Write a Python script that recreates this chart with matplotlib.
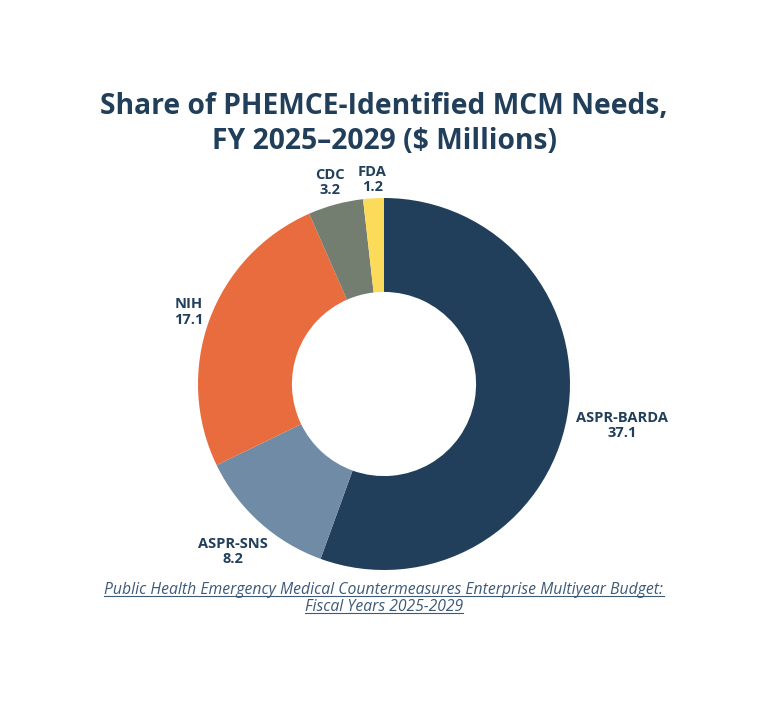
import matplotlib
matplotlib.use("Agg")
import matplotlib.pyplot as plt
import numpy as np
from matplotlib.lines import Line2D

plt.rcParams['font.family'] = ['Open Sans', 'DejaVu Sans']

agencies = ["ASPR-BARDA", "ASPR-SNS", "NIH", "CDC", "FDA"]
values = [37.1, 8.2, 17.1, 3.2, 1.2]
colors = ["#213f5a", "#6f8ba5", "#e86c3d", "#737d70", "#fddb5a"]
label_dist = [1.30, 1.21, 1.12, 1.12, 1.10]

navy = "#213f5a"

fig = plt.figure(figsize=(7.68, 7.07), dpi=100)
fig.patch.set_facecolor("white")

# donut axes, centre at (384, 384) px, radius 186 px
r_px = 186
cx, cy = 384 / 768, 1 - 384 / 707
ax = fig.add_axes([cx - r_px / 768, cy - r_px / 707, 2 * r_px / 768, 2 * r_px / 707])
wedges, _ = ax.pie(values, colors=colors, startangle=90, counterclock=False,
                   radius=1, wedgeprops=dict(width=0.505, linewidth=0))
ax.set_xlim(-1, 1)
ax.set_ylim(-1, 1)
ax.set_aspect("equal")
ax.axis("off")

for w, name, val, d in zip(wedges, agencies, values, label_dist):
    ang = np.deg2rad((w.theta1 + w.theta2) / 2)
    ax.text(d * np.cos(ang), d * np.sin(ang), f"{name}\n{val}", ha="center", va="center",
            fontsize=10.5, fontweight="bold", color=navy, linespacing=1.1, clip_on=False)

fig.text(0.5, 1 - 124 / 707, "Share of PHEMCE-Identified MCM Needs,\nFY 2025\u20132029 ($ Millions)",
         ha="center", va="center", fontsize=20.3, fontweight="bold", color=navy, linespacing=1.25)

cap_color = "#3d5a78"
cap_lines = ["Public Health Emergency Medical Countermeasures Enterprise Multiyear Budget:",
             "Fiscal Years 2025-2029"]
cap_y = [590, 607]
cap_texts = []
for line, y in zip(cap_lines, cap_y):
    t = fig.text(0.5, 1 - y / 707, line, ha="center", va="center", fontsize=11.3,
                 style="italic", color=cap_color)
    cap_texts.append(t)

# underline the caption
fig.canvas.draw()
renderer = fig.canvas.get_renderer()
for t in cap_texts:
    bb = t.get_window_extent(renderer).transformed(fig.transFigure.inverted())
    yline = bb.y0 + 0.1 * bb.height
    fig.add_artist(Line2D([bb.x0, bb.x1], [yline, yline], color=cap_color, linewidth=0.8,
                          transform=fig.transFigure))

fig.savefig("out.png", dpi=100, facecolor="white")
